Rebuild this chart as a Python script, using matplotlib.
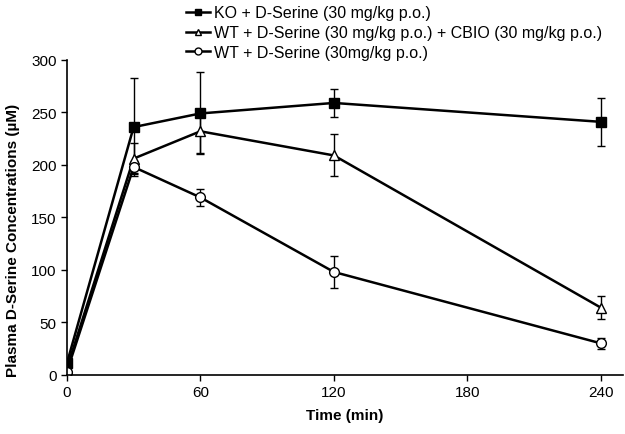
import matplotlib.pyplot as plt
from matplotlib.lines import Line2D
import numpy as np

plt.rcParams['font.family'] = ['Liberation Sans', 'DejaVu Sans']

time = [0, 30, 60, 120, 240]
ko = [11, 236, 249, 259, 241]
ko_err = [2, 47, 39, 13, 23]
wt_cbio = [6, 206, 232, 209, 64]
wt_cbio_err = [2, 15, 21, 20, 11]
wt = [3, 198, 169, 98, 30]
wt_err = [1, 6, 8, 15, 5]

labels = ['KO + D-Serine (30 mg/kg p.o.)',
          'WT + D-Serine (30 mg/kg p.o.) + CBIO (30 mg/kg p.o.)',
          'WT + D-Serine (30mg/kg p.o.)']

fig = plt.figure(figsize=(6.25, 4.35), dpi=100)
ax = fig.add_axes([0.107, 0.136, 0.89, 0.724])

kw = dict(color='black', lw=1.8, capsize=3, elinewidth=1, capthick=1, ms=7)
ax.errorbar(time, ko, yerr=ko_err, marker='s', mfc='black', mec='black', **kw)
ax.errorbar(time, wt_cbio, yerr=wt_cbio_err, marker='^', mfc='white', mec='black', **kw)
ax.errorbar(time, wt, yerr=wt_err, marker='o', mfc='white', mec='black', **kw)

ax.set_xlim(0, 250)
ax.set_ylim(0, 300)
ax.set_xticks([0, 60, 120, 180, 240])
ax.set_yticks(np.arange(0, 301, 50))
ax.spines['top'].set_visible(False)
ax.spines['right'].set_visible(False)
ax.tick_params(labelsize=11, length=4, width=1)
ax.set_xlabel('Time (min)', fontsize=11, fontweight='bold', labelpad=6)
ax.set_ylabel('Plasma D-Serine Concentrations (µM)', fontsize=11, fontweight='bold')
ax.yaxis.set_label_coords(-0.085, 0.43)
for s in ax.spines.values():
    s.set_linewidth(1.2)

handles = [Line2D([], [], color='black', lw=1.8, marker=m, ms=5, mfc=f, mec='black')
           for m, f in [('s', 'black'), ('^', 'white'), ('o', 'white')]]
ax.legend(handles, labels, loc='lower left', bbox_to_anchor=(0.215, 1.0), frameon=False,
          fontsize=11.5, handlelength=1.5, handletextpad=0.2, labelspacing=0.3,
          borderaxespad=0, borderpad=0)

fig.savefig('out.png', dpi=100)
